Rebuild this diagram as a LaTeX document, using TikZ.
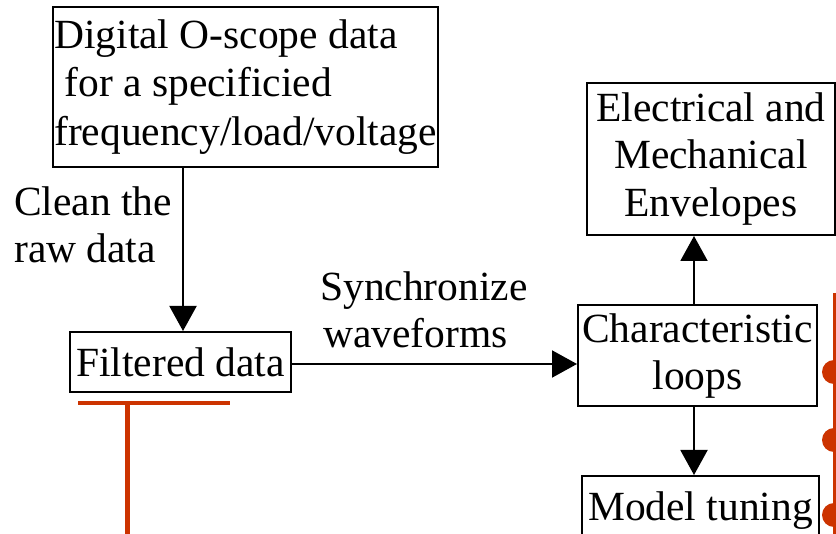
\documentclass[tikz,border=0pt]{standalone}
\usepackage{fontspec}
\setmainfont{Liberation Serif}
\usetikzlibrary{arrows.meta}
\definecolor{orng}{HTML}{CC3300}
\begin{document}
\begin{tikzpicture}[x=1pt,y=-1pt,
  box/.style={draw,line width=2pt,inner sep=0pt,font=\fontsize{41.5}{47.5}\selectfont,align=center},
  lbl/.style={inner sep=0pt,font=\fontsize{41.5}{47}\selectfont,align=left},
  arr/.style={line width=2pt,-{Triangle[length=25pt,width=27pt]}},
  orgline/.style={draw=orng,line width=4.5pt}]
\useasboundingbox (0,0) rectangle (836,534);
\clip (0,0) rectangle (836,534);
% boxes
\node[box,minimum width=385pt,minimum height=160pt,align=left,font=\fontsize{41.5}{48.5}\selectfont] (scope) at (245.5,87)
  {Digital O-scope data\\\hspace*{0.25em}for a specificied\\frequency/load/voltage};
\node[box,minimum width=221pt,minimum height=60pt] (filt) at (180.5,362) {Filtered data};
\node[box,minimum width=248pt,minimum height=152pt] (env) at (711,159) {Electrical and\\Mechanical\\Envelopes};
\node[box,minimum width=239pt,minimum height=101pt] (char) at (697.5,356) {Characteristic\\loops};
\node[box,minimum width=237pt,minimum height=70pt,text depth=0pt] (model) at (700.5,511) {\raisebox{9pt}{Model tuning}};
% labels
\node[lbl,anchor=north west] (clean) at (14,187) {Clean the\\raw data};
\node[lbl,anchor=north west] (sync) at (320,272) {Synchronize\\\hspace*{0.07em}waveforms};
% connectors
\draw[arr] ([xshift=2.5pt]filt.north |- scope.south) -- ([xshift=2.5pt]filt.north);
\draw[arr] ([yshift=-2pt]filt.east) -- ([yshift=-2pt]filt.east -| char.west);
\draw[arr] ([xshift=-3.5pt]char.north) -- ([xshift=-3.5pt]char.north |- env.south);
\draw[arr] ([xshift=-3.5pt]char.south) -- ([xshift=-3.5pt]char.south |- model.north);
% orange decorations
\coordinate (tl) at (78,403);
\coordinate (tr) at (230,403);
\coordinate (tt) at (127,403);
\coordinate (tb) at (127,540);
\draw[orgline,line width=4pt] (tl) -- (tr);
\draw[orgline,line width=5pt] (tt) -- (tb);
\coordinate (rt) at (834,293);
\coordinate (rb) at (834,540);
\draw[draw=orng,line width=3pt] (rt) -- (rb);
\foreach \yy in {372,440,515}{
  \fill[orng] (834,\yy-12) arc[start angle=90,end angle=270,radius=12pt] -- cycle;
}
\end{tikzpicture}
\end{document}
